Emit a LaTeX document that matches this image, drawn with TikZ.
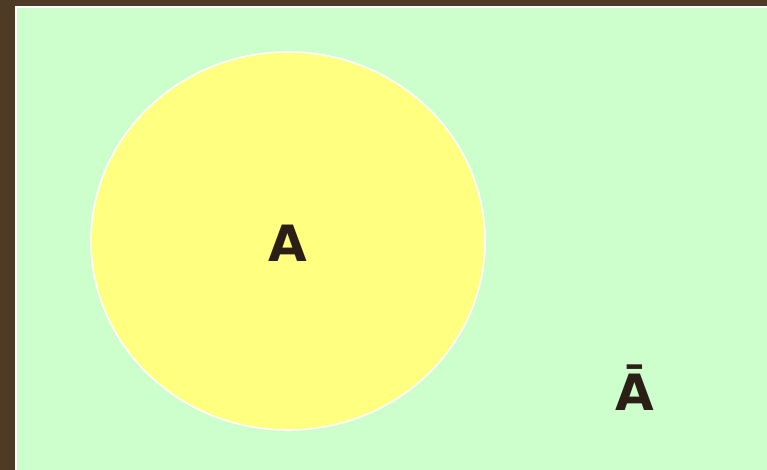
\documentclass[tikz,border=0pt]{standalone}
\usepackage{fontspec}
\setmainfont{DejaVu Sans}

\definecolor{framebrown}{HTML}{4F3A26}
\definecolor{setgreen}{HTML}{CCFFCC}
\definecolor{setyellow}{HTML}{FFFF80}
\definecolor{labeltext}{HTML}{2B1E14}

\begin{document}
\begin{tikzpicture}[x=1pt, y=-1pt,
  setlabel/.style={font=\fontsize{50}{50}\selectfont\bfseries,
    text=labeltext, inner sep=0pt, anchor=base}]

\useasboundingbox (0,0) rectangle (767,470);

%-- frame and universe
\fill[framebrown] (0,0) rectangle (767,470);
\draw[white, line width=1.6pt, fill=setgreen] (16,7) rectangle (769,472);

%-- set A
\coordinate (Ac) at (288,241);
\draw[white, line width=1.6pt, fill=setyellow]
  (Ac) ellipse [x radius=197, y radius=189];

\node[setlabel] (A)    at (288,261) {A};
\node[setlabel] (Abar) at (635,410) {Ā};

\end{tikzpicture}
\end{document}
